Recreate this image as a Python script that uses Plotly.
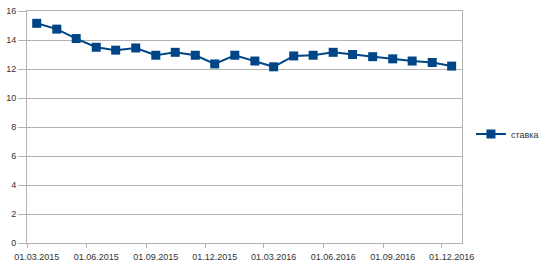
import plotly.graph_objects as go

dates = ["2015-03-16", "2015-04-16", "2015-05-16", "2015-06-16", "2015-07-16", "2015-08-16",
         "2015-09-16", "2015-10-16", "2015-11-16", "2015-12-16", "2016-01-16", "2016-02-16",
         "2016-03-16", "2016-04-16", "2016-05-16", "2016-06-16", "2016-07-16", "2016-08-16",
         "2016-09-16", "2016-10-16", "2016-11-16", "2016-12-16"]
stavka = [15.15, 14.75, 14.1, 13.5, 13.3, 13.45, 12.95, 13.15, 12.95, 12.35, 12.95, 12.55,
          12.15, 12.9, 12.95, 13.15, 13.0, 12.85, 12.7, 12.55, 12.45, 12.2]
series_name = "ставка"
tick_labels = ["01.03.2015", "01.06.2015", "01.09.2015", "01.12.2015",
               "01.03.2016", "01.06.2016", "01.09.2016", "01.12.2016"]
tick_positions = dates[::3]

fig = go.Figure()
fig.add_trace(go.Scatter(
    x=dates, y=stavka, name=series_name, mode="lines+markers",
    line=dict(color="#004586", width=2),
    marker=dict(symbol="square", size=9, color="#004586"),
))

grid = "#b3b3b3"
fig.update_layout(
    width=550, height=266,
    margin=dict(l=27, r=88, t=11, b=23),
    paper_bgcolor="white", plot_bgcolor="white",
    font=dict(family="Liberation Sans, Arial, sans-serif", size=9, color="#333333"),
    showlegend=True,
    legend=dict(xref="container", yref="container", x=0.989, y=0.496,
                xanchor="right", yanchor="middle",
                font=dict(size=9), itemwidth=30),
    xaxis=dict(
        type="date", range=["2015-03-01", "2017-01-01"], automargin=False,
        tickmode="array", tickvals=tick_positions, ticktext=tick_labels,
        ticks="", showgrid=False, showline=True, linecolor=grid, linewidth=1, mirror=True,
        zeroline=False, ticklabelstandoff=5,
        minor=dict(tick0="2015-03-01", dtick="M3", ticks="outside", ticklen=4,
                   tickcolor=grid, showgrid=False),
    ),
    yaxis=dict(
        range=[0, 16], dtick=2, showgrid=True, gridcolor=grid, gridwidth=1,
        automargin=False,
        showline=True, linecolor=grid, linewidth=1, mirror=True,
        ticks="outside", ticklen=8, tickcolor=grid, zeroline=False,
    ),
)

fig.write_html("out.html", config={"displayModeBar": False},
               post_script="document.body.style.margin='0';")
